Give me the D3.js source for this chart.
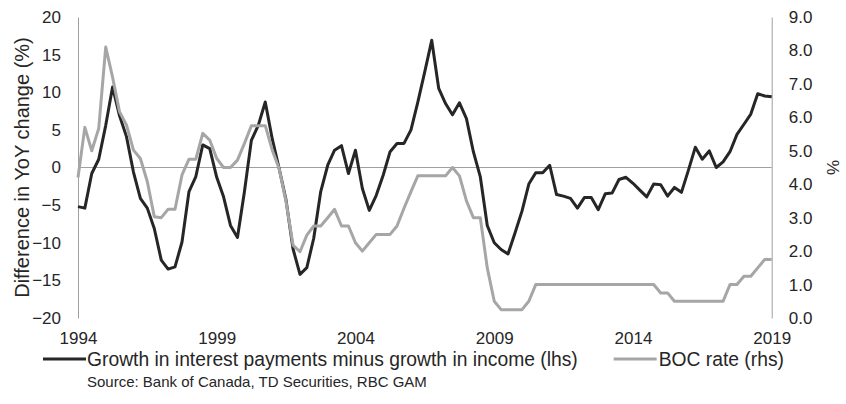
<!DOCTYPE html>
<html>
<head>
<meta charset="utf-8">
<script src="https://cdn.jsdelivr.net/npm/d3@7"></script>
<style>
  html, body { margin: 0; padding: 0; background: #fff; }
  svg text { font-family: "Liberation Sans", Arial, sans-serif; fill: #262626; }
</style>
</head>
<body>
<svg id="chart" width="846" height="404"></svg>
<script>
// ---- data (quarterly, 1994Q1 .. 2019Q1) ----
const startYear = 1994;
const xTickYears = [1994, 1999, 2004, 2009, 2014, 2019];
const leftTicks = [-20, -15, -10, -5, 0, 5, 10, 15, 20];
const rightTicks = [0, 1, 2, 3, 4, 5, 6, 7, 8, 9];

const interestGap = [
  -5.2, -5.4, -0.8, 1.1, 5.6, 10.7, 6.9, 4.1, -0.6, -4.1,
  -5.4, -8.1, -12.3, -13.5, -13.2, -9.9, -3.2, -1.2, 3.0, 2.5,
  -1.3, -3.9, -7.7, -9.3, -3.2, 3.6, 5.6, 8.7, 3.8, -0.1,
  -4.3, -10.8, -14.2, -13.3, -9.4, -3.2, 0.3, 2.3, 2.9, -0.8,
  2.3, -2.8, -5.7, -3.7, -1.0, 2.1, 3.2, 3.2, 5.0, 8.7,
  12.7, 16.9, 10.5, 8.5, 7.0, 8.6, 6.5, 2.1, -1.2, -7.7,
  -10.0, -10.9, -11.5, -8.7, -5.8, -2.2, -0.7, -0.7, 0.3, -3.6,
  -3.8, -4.1, -5.4, -4.0, -4.0, -5.6, -3.5, -3.4, -1.6, -1.3,
  -2.1, -3.0, -3.9, -2.2, -2.3, -3.8, -2.65, -3.3, -0.35, 2.7,
  1.1, 2.2, 0.0, 0.75, 2.1, 4.4, 5.75, 7.1, 9.8, 9.5,
  9.4
];

const bocRate = [
  4.2, 5.7, 5.0, 5.67, 8.1, 7.2, 6.17, 5.77, 5.02, 4.77,
  4.08, 3.03, 3.0, 3.25, 3.25, 4.28, 4.75, 4.75, 5.52, 5.32,
  4.77, 4.5, 4.5, 4.72, 5.22, 5.75, 5.75, 5.75, 5.02, 4.47,
  3.48, 2.18, 1.98, 2.48, 2.75, 2.75, 3.0, 3.25, 2.75, 2.75,
  2.25, 2.0, 2.25, 2.5, 2.5, 2.5, 2.75, 3.28, 3.78, 4.25,
  4.25, 4.25, 4.25, 4.25, 4.5, 4.25, 3.5, 3.0, 3.0, 1.5,
  0.5, 0.25, 0.25, 0.25, 0.25, 0.5, 1.0, 1.0, 1.0, 1.0,
  1.0, 1.0, 1.0, 1.0, 1.0, 1.0, 1.0, 1.0, 1.0, 1.0,
  1.0, 1.0, 1.0, 1.0, 0.75, 0.75, 0.5, 0.5, 0.5, 0.5,
  0.5, 0.5, 0.5, 0.5, 1.0, 1.0, 1.25, 1.25, 1.5, 1.75,
  1.75
];

const seriesNames = ["Growth in interest payments minus growth in income (lhs)", "BOC rate (rhs)"];
const leftTitle = "Difference in YoY change (%)";
const rightTitle = "%";
const sourceText = "Source: Bank of Canada, TD Securities, RBC GAM";

// ---- layout ----
const svg = d3.select("#chart");
const m = { left: 78, right: 771.7, top: 17, bottom: 318 };
const darkCol = "#262626", greyCol = "#a6a6a6", axisCol = "#a0a0a0";
const FONT = '"Liberation Sans", Arial, sans-serif';

const quarterDate = i => new Date(startYear, i * 3, 1);
const x = d3.scaleTime()
  .domain([quarterDate(0), quarterDate(interestGap.length - 1)])
  .range([m.left, m.right]);
const yL = d3.scaleLinear().domain([-20, 20]).range([m.bottom, m.top]);
const yR = d3.scaleLinear().domain([0, 9]).range([m.bottom, m.top]);

// zero line
svg.append("line")
  .attr("x1", m.left).attr("x2", m.right)
  .attr("y1", yL(0)).attr("y2", yL(0))
  .attr("stroke", axisCol).attr("stroke-width", 1);

// left axis
const gL = svg.append("g").attr("transform", `translate(${m.left},0)`)
  .call(d3.axisLeft(yL).tickValues(leftTicks).tickSize(0).tickPadding(17).tickFormat(d3.format("d")));
gL.select(".domain").attr("stroke", axisCol);
gL.selectAll("text").attr("font-size", 17).attr("fill", darkCol).style("font-family", FONT);

// right axis
const gR = svg.append("g").attr("transform", `translate(${m.right},0)`)
  .call(d3.axisRight(yR).tickValues(rightTicks).tickSize(0).tickPadding(17).tickFormat(d3.format(".1f")));
gR.select(".domain").attr("stroke", axisCol);
gR.selectAll("text").attr("font-size", 17).attr("fill", darkCol).style("font-family", FONT);

// x axis (labels at bottom)
const gX = svg.append("g").attr("transform", `translate(0,${m.bottom})`)
  .call(d3.axisBottom(x).tickValues(xTickYears.map(yv => new Date(yv, 0, 1)))
    .tickSize(0).tickPadding(14).tickFormat(d3.timeFormat("%Y")));
gX.select(".domain").remove();
gX.selectAll("text").attr("font-size", 17).attr("fill", darkCol).style("font-family", FONT);

// axis titles
svg.append("text")
  .attr("transform", `translate(22,${(m.top + m.bottom) / 2}) rotate(-90)`)
  .attr("text-anchor", "middle").attr("dominant-baseline", "central")
  .attr("font-size", 20).text(leftTitle);
svg.append("text")
  .attr("transform", `translate(833,${yR(4.5)}) rotate(-90)`)
  .attr("text-anchor", "middle").attr("dominant-baseline", "central")
  .attr("font-size", 17).text(rightTitle);

// lines
const lineL = d3.line().x((d, i) => x(quarterDate(i))).y(d => yL(d));
const lineR = d3.line().x((d, i) => x(quarterDate(i))).y(d => yR(d));

svg.append("path").datum(interestGap)
  .attr("d", lineL).attr("fill", "none")
  .attr("stroke", darkCol).attr("stroke-width", 3).attr("stroke-linejoin", "round");
svg.append("path").datum(bocRate)
  .attr("d", lineR).attr("fill", "none")
  .attr("stroke", greyCol).attr("stroke-width", 3).attr("stroke-linejoin", "round");

// legend
const legendY = 359;
const legFont = 19.3;
const leg1 = svg.append("g");
leg1.append("line").attr("x1", 43).attr("x2", 86).attr("y1", legendY).attr("y2", legendY)
  .attr("stroke", darkCol).attr("stroke-width", 3);
leg1.append("text").attr("x", 87).attr("y", legendY)
  .attr("dominant-baseline", "central").attr("font-size", legFont).text(seriesNames[0]);

const leg2 = svg.append("g");
const t2 = leg2.append("text").attr("x", 784).attr("y", legendY).attr("text-anchor", "end")
  .attr("dominant-baseline", "central").attr("font-size", legFont).text(seriesNames[1]);
const w2 = t2.node().getComputedTextLength();
leg2.append("line").attr("x1", 784 - w2 - 45).attr("x2", 784 - w2 - 2)
  .attr("y1", legendY).attr("y2", legendY)
  .attr("stroke", greyCol).attr("stroke-width", 3);

svg.append("text").attr("x", 87).attr("y", 381)
  .attr("dominant-baseline", "central").attr("font-size", 15).text(sourceText);
</script>
</body>
</html>
